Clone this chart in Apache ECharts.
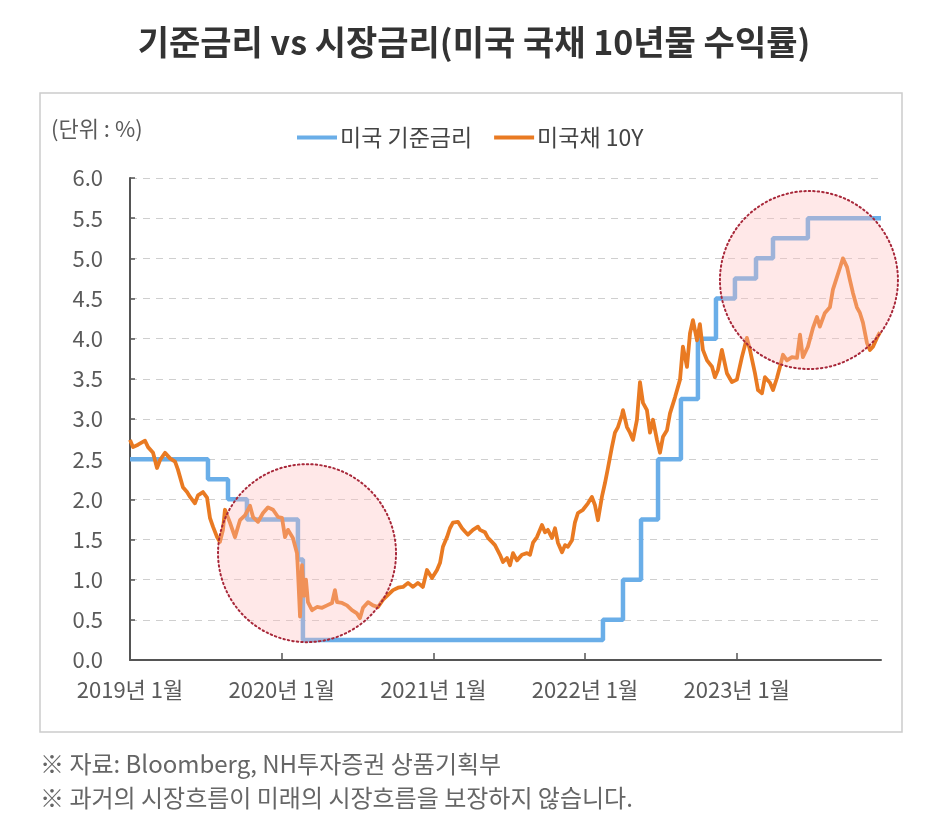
<!DOCTYPE html>
<html>
<head>
<meta charset="utf-8">
<script src="https://cdn.jsdelivr.net/npm/echarts@6.0.0/dist/echarts.min.js"></script>
<style>
  html, body { margin: 0; padding: 0; background: #fff; }
  #chart { width: 948px; height: 831px; }
</style>
</head>
<body>
<div id="chart"></div>
<script>
// x values are decimal years
const yearTicks = [2019, 2020, 2021, 2022, 2023];

const fedDates = [2019.000, 2019.514, 2019.646, 2019.771, 2020.107, 2020.140,
    2022.118, 2022.250, 2022.369, 2022.481, 2022.632, 2022.744, 2022.863,
    2022.988, 2023.127, 2023.239, 2023.469, 2023.951];
const fedRates = [2.50, 2.25, 2.00, 1.75, 1.25, 0.25,
    0.50, 1.00, 1.75, 2.50, 3.25, 4.00, 4.50,
    4.75, 5.00, 5.25, 5.50, 5.50];

const ustDates = [
    2019.000, 2019.020, 2019.053, 2019.099, 2019.119, 2019.152, 2019.178, 2019.198, 2019.231, 2019.264,
    2019.297, 2019.316, 2019.349, 2019.376, 2019.396, 2019.428, 2019.448, 2019.481, 2019.508, 2019.527,
    2019.547, 2019.574, 2019.593, 2019.613, 2019.626, 2019.659, 2019.692, 2019.725, 2019.758, 2019.791,
    2019.811, 2019.844, 2019.877, 2019.910, 2019.943, 2019.976, 2020.002, 2020.022, 2020.042, 2020.074,
    2020.101, 2020.107, 2020.121, 2020.134, 2020.147, 2020.160, 2020.173, 2020.200, 2020.233, 2020.266,
    2020.299, 2020.332, 2020.351, 2020.365, 2020.398, 2020.430, 2020.463, 2020.496, 2020.516, 2020.536,
    2020.569, 2020.602, 2020.635, 2020.668, 2020.701, 2020.734, 2020.767, 2020.800, 2020.833, 2020.866,
    2020.898, 2020.931, 2020.958, 2020.991, 2021.024, 2021.044, 2021.063, 2021.090, 2021.109, 2021.129,
    2021.162, 2021.189, 2021.208, 2021.228, 2021.261, 2021.294, 2021.307, 2021.340, 2021.360, 2021.386,
    2021.406, 2021.439, 2021.459, 2021.485, 2021.505, 2021.525, 2021.551, 2021.584, 2021.617, 2021.637,
    2021.657, 2021.683, 2021.716, 2021.736, 2021.755, 2021.782, 2021.802, 2021.821, 2021.848, 2021.868,
    2021.887, 2021.914, 2021.933, 2021.953, 2021.986, 2022.019, 2022.045, 2022.065, 2022.085, 2022.111,
    2022.131, 2022.151, 2022.177, 2022.197, 2022.217, 2022.243, 2022.250, 2022.276, 2022.296, 2022.316,
    2022.342, 2022.362, 2022.382, 2022.408, 2022.428, 2022.448, 2022.474, 2022.494, 2022.514, 2022.540,
    2022.560, 2022.593, 2022.626, 2022.645, 2022.672, 2022.692, 2022.711, 2022.738, 2022.757, 2022.777,
    2022.804, 2022.837, 2022.856, 2022.876, 2022.902, 2022.935, 2022.968, 2023.001, 2023.034, 2023.067,
    2023.087, 2023.120, 2023.140, 2023.166, 2023.186, 2023.219, 2023.239, 2023.265, 2023.285, 2023.305,
    2023.331, 2023.364, 2023.397, 2023.417, 2023.436, 2023.469, 2023.502, 2023.529, 2023.548, 2023.581,
    2023.614, 2023.634, 2023.661, 2023.680, 2023.700, 2023.727, 2023.746, 2023.766, 2023.792, 2023.812,
    2023.832, 2023.858, 2023.878, 2023.898, 2023.924, 2023.944
];
const ustYields = [
    2.74, 2.65, 2.68, 2.73, 2.65, 2.58, 2.39, 2.49, 2.58, 2.51,
    2.47, 2.37, 2.15, 2.09, 2.03, 1.95, 2.05, 2.09, 2.02, 1.77,
    1.66, 1.53, 1.47, 1.62, 1.87, 1.71, 1.53, 1.74, 1.80, 1.92,
    1.78, 1.72, 1.83, 1.90, 1.87, 1.78, 1.77, 1.53, 1.62, 1.52,
    1.33, 1.12, 0.54, 1.18, 0.80, 1.00, 0.72, 0.62, 0.66, 0.65,
    0.68, 0.71, 0.87, 0.72, 0.71, 0.68, 0.62, 0.58, 0.52, 0.65,
    0.72, 0.68, 0.66, 0.75, 0.81, 0.87, 0.90, 0.91, 0.96, 0.91,
    0.96, 0.91, 1.12, 1.02, 1.12, 1.21, 1.41, 1.53, 1.64, 1.71,
    1.72, 1.64, 1.60, 1.56, 1.62, 1.66, 1.62, 1.59, 1.52, 1.47,
    1.43, 1.31, 1.22, 1.27, 1.18, 1.33, 1.24, 1.31, 1.33, 1.31,
    1.46, 1.53, 1.68, 1.59, 1.62, 1.52, 1.64, 1.46, 1.34, 1.43,
    1.41, 1.49, 1.71, 1.83, 1.87, 1.95, 2.03, 1.93, 1.74, 2.03,
    2.20, 2.39, 2.65, 2.83, 2.90, 3.05, 3.11, 2.90, 2.83, 2.74,
    2.99, 3.46, 3.20, 3.11, 2.83, 2.99, 2.74, 2.58, 2.78, 2.86,
    3.07, 3.27, 3.49, 3.90, 3.65, 4.07, 4.23, 3.98, 4.18, 3.86,
    3.73, 3.65, 3.52, 3.61, 3.86, 3.57, 3.46, 3.49, 3.77, 4.01,
    3.86, 3.57, 3.36, 3.32, 3.52, 3.45, 3.36, 3.51, 3.65, 3.80,
    3.73, 3.77, 3.76, 4.05, 3.77, 3.90, 4.13, 4.27, 4.15, 4.32,
    4.39, 4.61, 4.77, 4.88, 5.00, 4.89, 4.73, 4.57, 4.39, 4.32,
    4.20, 3.95, 3.86, 3.90, 4.01, 4.08
];

// highlight circles: [year, value] centres
const circleCentres = [[2020.167, 1.33], [2023.476, 4.73]];
const circleRadius = 89;

const fontFamily = '"Noto Sans CJK KR", "Noto Sans", sans-serif';
const chart = echarts.init(document.getElementById('chart'));

const option = {
    backgroundColor: '#fff',
    animation: false,
    textStyle: { fontFamily: fontFamily },
    title: {
        text: '기준금리 vs 시장금리(미국 국채 10년물 수익률)',
        left: 'center',
        top: 20,
        textStyle: { fontSize: 34, fontWeight: 'bold', color: '#333', fontFamily: fontFamily }
    },
    legend: {
        left: 292,
        top: 121,
        icon: 'rect',
        itemWidth: 40,
        itemHeight: 4,
        itemGap: 22,
        textStyle: { fontSize: 23, color: '#444', padding: [0, 0, 0, -2] },
        data: ['미국 기준금리', '미국채 10Y']
    },
    grid: {
        left: 130,
        right: 67,
        top: 178,
        bottom: 171,
        outerBoundsMode: 'none'
    },
    xAxis: {
        type: 'value',
        min: 2019,
        max: 2023.951,
        axisLine: { lineStyle: { color: '#555', width: 2 } },
        axisTick: {
            show: true, inside: true, length: 7,
            customValues: yearTicks,
            lineStyle: { color: '#555', width: 1.5 }
        },
        axisLabel: {
            customValues: yearTicks,
            formatter: v => v + '년 1월',
            fontSize: 22,
            color: '#5a5a5a',
            margin: 19
        },
        splitLine: { show: false }
    },
    yAxis: {
        type: 'value',
        min: 0,
        max: 6,
        interval: 0.5,
        axisLine: { show: true, lineStyle: { color: '#555', width: 2 } },
        axisTick: { show: true, inside: true, length: 5, lineStyle: { color: '#555', width: 1.5 } },
        axisLabel: {
            formatter: v => v.toFixed(1),
            fontSize: 22,
            color: '#5a5a5a',
            margin: 27
        },
        splitLine: { show: true, lineStyle: { color: '#cfcfcf', type: [7, 6], width: 1 } }
    },
    series: [
        {
            name: '미국 기준금리',
            type: 'line',
            step: 'end',
            symbol: 'none',
            color: '#6aaee8',
            lineStyle: { width: 4.5, color: '#6aaee8' },
            data: fedDates.map((d, i) => [d, fedRates[i]]),
            z: 2
        },
        {
            name: '미국채 10Y',
            type: 'line',
            symbol: 'none',
            color: '#e97a22',
            lineStyle: { width: 3.8, color: '#e97a22', join: 'round' },
            data: ustDates.map((d, i) => [d, ustYields[i]]),
            z: 3
        }
    ],
    graphic: [
        {
            type: 'rect',
            shape: { x: 40, y: 93, width: 862, height: 639 },
            style: { fill: 'none', stroke: '#cccccc', lineWidth: 1.5 },
            z: -1
        },
        {
            type: 'text',
            left: 51,
            top: 118,
            style: { text: '(단위 : %)', font: '22px ' + fontFamily, fill: '#5a5a5a' }
        },
        {
            type: 'text',
            left: 40,
            top: 752,
            style: { text: '※ 자료: Bloomberg, NH투자증권 상품기획부', font: '24px ' + fontFamily, fill: '#666' }
        },
        {
            type: 'text',
            left: 40,
            top: 786,
            style: { text: '※ 과거의 시장흐름이 미래의 시장흐름을 보장하지 않습니다.', font: '24px ' + fontFamily, fill: '#666' }
        }
    ]
};
chart.setOption(option);

// place the highlight circles in data space, drawn over the lines
const circles = circleCentres.map((c, i) => {
    const p = chart.convertToPixel({ gridIndex: 0 }, c);
    return {
        type: 'circle',
        id: 'hl' + i,
        shape: { cx: p[0], cy: p[1], r: circleRadius },
        style: {
            fill: 'rgba(255, 190, 190, 0.35)',
            stroke: '#a8283a',
            lineWidth: 2,
            lineDash: [1.5, 3],
            lineCap: 'round'
        },
        z: 10
    };
});
chart.setOption({ graphic: option.graphic.concat(circles) });
</script>
</body>
</html>
